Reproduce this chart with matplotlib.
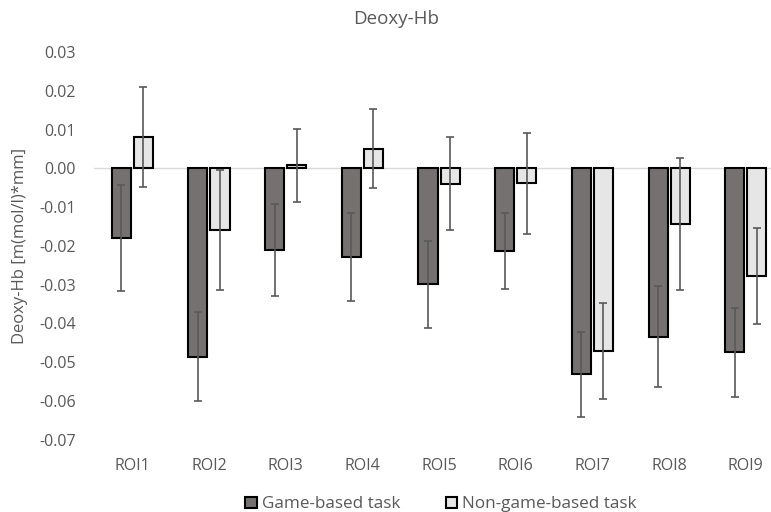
import matplotlib.pyplot as plt
import numpy as np

rois = ["ROI1", "ROI2", "ROI3", "ROI4", "ROI5", "ROI6", "ROI7", "ROI8", "ROI9"]
game = [-0.0180, -0.0486, -0.0211, -0.0228, -0.0299, -0.0212, -0.0531, -0.0434, -0.0474]
game_err = [0.0137, 0.0115, 0.0118, 0.0113, 0.0112, 0.0098, 0.0110, 0.0131, 0.0115]
nongame = [0.0081, -0.0159, 0.0008, 0.0050, -0.0040, -0.0039, -0.0471, -0.0144, -0.0278]
nongame_err = [0.0130, 0.0154, 0.0094, 0.0102, 0.0120, 0.0130, 0.0124, 0.0171, 0.0123]
yticks = [-0.07, -0.06, -0.05, -0.04, -0.03, -0.02, -0.01, 0.00, 0.01, 0.02, 0.03]

plt.rcParams["font.family"] = ["Open Sans", "DejaVu Sans"]
txt = "#595959"

fig = plt.figure(figsize=(7.71, 5.12), dpi=100)
# plot area runs past the right edge, like the cropped original
ax = fig.add_axes([0.1219, 0.1412, 0.895, 0.7572])

x = np.arange(len(rois))
w = 0.248
off = 0.1436
ekw = dict(ecolor="#595959", elinewidth=1.2, capsize=3, capthick=1.2)
ax.axhline(0, color="#d9d9d9", lw=1, zorder=1)
ax.bar(x - off, game, w, yerr=game_err, color="#767171", edgecolor="black",
       linewidth=1.5, error_kw=ekw, label="Game-based task", zorder=2)
ax.bar(x + off, nongame, w, yerr=nongame_err, color="#e7e6e6", edgecolor="black",
       linewidth=1.5, error_kw=ekw, label="Non-game-based task", zorder=2)

ax.set_xlim(-0.5, len(rois) - 0.5)
ax.set_ylim(-0.07, 0.03)
ax.set_yticks(yticks)
ax.set_yticklabels([f"{v:.2f}" for v in yticks])
ax.set_xticks(x)
ax.set_xticklabels(rois)
ax.tick_params(length=0, colors=txt, labelsize=11.5)
ax.tick_params(axis="x", pad=13)
ax.tick_params(axis="y", pad=13)
for s in ax.spines.values():
    s.set_visible(False)

fig.text(396.5 / 771, 1 - 18.5 / 512, "Deoxy-Hb", color=txt, fontsize=13.5,
         ha="center", va="center")
ax.set_ylabel("Deoxy-Hb [m(mol/l)*mm]", color=txt, fontsize=12)
ax.yaxis.set_label_coords(-(94 - 28) / 690, 0.5)

fig.legend(loc="center", bbox_to_anchor=(441 / 771, 1 - 504.5 / 512), ncol=2,
           frameon=False, fontsize=12.3, labelcolor=txt, handlelength=0.66,
           handleheight=0.66, handletextpad=0.3, columnspacing=2.65)

fig.savefig("out.png", dpi=100)
